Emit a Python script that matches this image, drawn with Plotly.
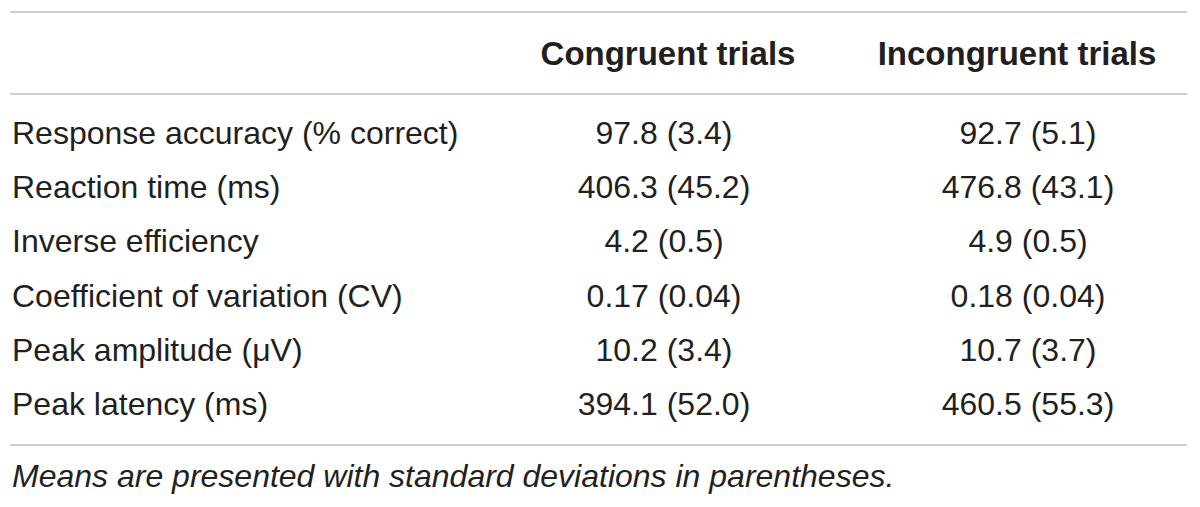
import plotly.graph_objects as go

# Table contents
row_labels = [
    "Response accuracy (% correct)",
    "Reaction time (ms)",
    "Inverse efficiency",
    "Coefficient of variation (CV)",
    "Peak amplitude (\u03bcV)",
    "Peak latency (ms)",
]
col_headers = ["Congruent trials", "Incongruent trials"]
congruent = ["97.8 (3.4)", "406.3 (45.2)", "4.2 (0.5)", "0.17 (0.04)", "10.2 (3.4)", "394.1 (52.0)"]
incongruent = ["92.7 (5.1)", "476.8 (43.1)", "4.9 (0.5)", "0.18 (0.04)", "10.7 (3.7)", "460.5 (55.3)"]
footnote = "Means are presented with standard deviations in parentheses."

W, H = 1200, 507
FONT = "Liberation Sans"
COLOR = "#231f20"
LINE = "#cfcfcf"

row_y = [136 + 54.2 * i for i in range(len(row_labels))]
header_y = 57
header_x = [668, 1017]
value_x = [664, 1028]

fig = go.Figure()

# row labels
fig.add_trace(go.Scatter(
    x=[12] * len(row_labels), y=row_y, text=row_labels,
    mode="text", textposition="middle right",
    textfont=dict(family=FONT, size=32, color=COLOR),
    hoverinfo="skip", showlegend=False,
))

# value columns
for xv, vals in zip(value_x, [congruent, incongruent]):
    fig.add_trace(go.Scatter(
        x=[xv] * len(vals), y=row_y, text=vals,
        mode="text", textposition="middle center",
        textfont=dict(family=FONT, size=32, color=COLOR),
        hoverinfo="skip", showlegend=False,
    ))

# headers
fig.add_trace(go.Scatter(
    x=header_x, y=[header_y] * 2, text=["<b>%s</b>" % h for h in col_headers],
    mode="text", textposition="middle center",
    textfont=dict(family=FONT, size=33, color=COLOR),
    hoverinfo="skip", showlegend=False,
))

# footnote
fig.add_trace(go.Scatter(
    x=[12], y=[479], text=["<i>%s</i>" % footnote],
    mode="text", textposition="middle right",
    textfont=dict(family=FONT, size=32, color=COLOR),
    hoverinfo="skip", showlegend=False,
))

# horizontal rules
for yl in [12, 94, 445]:
    fig.add_shape(type="line", x0=10, x1=1187, y0=yl, y1=yl,
                  line=dict(color=LINE, width=2), layer="below")

fig.update_layout(
    width=W, height=H,
    margin=dict(l=0, r=0, t=0, b=0),
    paper_bgcolor="white", plot_bgcolor="white",
    xaxis=dict(range=[0, W], visible=False, fixedrange=True),
    yaxis=dict(range=[H, 0], visible=False, fixedrange=True),
)

fig.write_html("out.html", config={"displayModeBar": False},
               post_script="document.body.style.margin='0';")
